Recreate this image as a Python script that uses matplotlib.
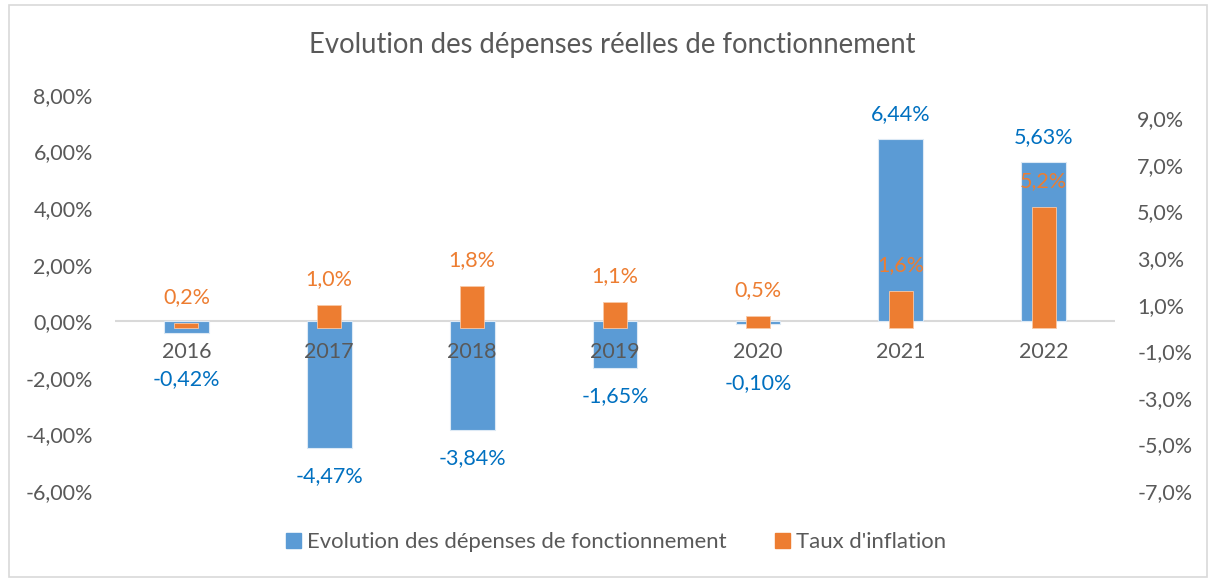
import matplotlib.pyplot as plt
import matplotlib.patches as patches
import numpy as np

years = ['2016', '2017', '2018', '2019', '2020', '2021', '2022']
depenses = [-0.42, -4.47, -3.84, -1.65, -0.10, 6.44, 5.63]
inflation = [0.2, 1.0, 1.8, 1.1, 0.5, 1.6, 5.2]

blue = '#5B9BD5'
orange = '#ED7D31'
grey = '#595959'
plt.rcParams['font.family'] = ['Lato', 'DejaVu Sans']

W, H = 1208, 578
fig = plt.figure(figsize=(W / 100, H / 100), dpi=100)
fig.patch.set_facecolor('white')
ax = fig.add_axes([115 / W, 87 / H, 1000 / W, 396 / H])
ax2 = ax.twinx()

x = np.arange(len(years))
ax.bar(x, depenses, width=0.313, color=blue, edgecolor='#dce9f5', linewidth=0.8, zorder=2)
ax2.bar(x, inflation, width=0.168, color=orange, edgecolor='#f8c9a8', linewidth=0.6, zorder=2)

ax.set_xlim(-0.5, len(years) - 0.5)
ax.set_ylim(-6, 8)
ax2.set_ylim(-7, 10)
ax.axhline(0, color='#d9d9d9', linewidth=1.5, zorder=1)

ax.set_yticks(np.arange(-6, 9, 2))
ax.set_yticklabels([('%.2f%%' % v).replace('.', ',') for v in np.arange(-6, 9, 2)])
ax2.set_yticks(np.arange(-7, 10, 2))
ax2.set_yticklabels([('%.1f%%' % v).replace('.', ',') for v in np.arange(-7, 10, 2)])
ax.set_xticks([])
for a in (ax, ax2):
    for s in a.spines.values():
        s.set_visible(False)
    a.tick_params(axis='y', length=0, labelsize=15.5, labelcolor=grey, pad=16)

# category labels sitting under the zero line
for i, yr in enumerate(years):
    ax2.annotate(yr, xy=(i, 0), xycoords=ax.transData, xytext=(0, -31 * 0.72),
                 textcoords='offset points', ha='center', va='center',
                 fontsize=15.5, color=grey, zorder=5)

# data labels
neg_off = [46, 28, 28, 28, 59, 28, 28]
for i, v in enumerate(depenses):
    off = 25 if v > 0 else -neg_off[i]
    ax2.annotate(('%.2f%%' % v).replace('.', ','), xy=(i, v), xycoords=ax.transData,
                 xytext=(0, off * 0.72), textcoords='offset points',
                 ha='center', va='center', fontsize=15.5, color='#0070C0', zorder=5)
for i, v in enumerate(inflation):
    ax2.annotate(('%.1f%%' % v).replace('.', ','), xy=(i, v), xytext=(0, 26 * 0.72),
                 textcoords='offset points', ha='center', va='center',
                 fontsize=15.5, color=orange, zorder=5)

fig.text(612 / W, 1 - 45 / H, 'Evolution des dépenses réelles de fonctionnement',
         ha='center', va='center', fontsize=19.8, color=grey)

handles = [patches.Patch(color=blue), patches.Patch(color=orange)]
fig.legend(handles, ['Evolution des dépenses de fonctionnement', "Taux d'inflation"],
           loc='center', bbox_to_anchor=(616 / W, 1 - 542 / H), ncol=2, frameon=False,
           fontsize=15.9, labelcolor=grey, handlelength=0.68, handleheight=0.68,
           handletextpad=0.25, columnspacing=2.2)

fig.add_artist(patches.Rectangle((9 / W, 1 / H), (W - 10) / W, (H - 6) / H,
                                 transform=fig.transFigure, fill=False,
                                 edgecolor='#d9d9d9', linewidth=1.2))

fig.savefig('out.png', dpi=100)
